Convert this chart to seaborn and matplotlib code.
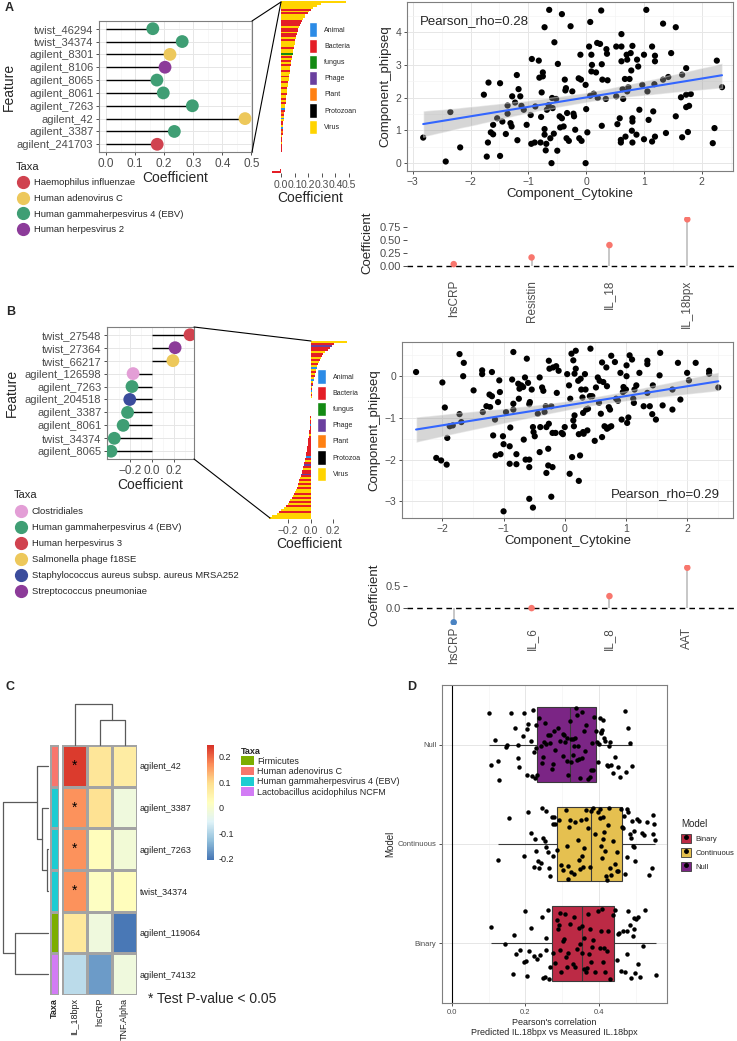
import numpy as np
import pandas as pd
import matplotlib
matplotlib.use("Agg")
import matplotlib.pyplot as plt
import seaborn as sns
from matplotlib.lines import Line2D
from matplotlib.patches import Patch
from matplotlib.colors import ListedColormap, LinearSegmentedColormap
from matplotlib.collections import PolyCollection
from matplotlib.ticker import MultipleLocator, FuncFormatter

# ---------------- DATA ----------------
# Panel A lollipop (ggplot order, bottom -> top)
featA = ["agilent_241703", "agilent_3387", "agilent_42", "agilent_7263", "agilent_8061",
         "agilent_8065", "agilent_8106", "agilent_8301", "twist_34374", "twist_46294"]
coefA = [0.176, 0.235, 0.478, 0.297, 0.197, 0.175, 0.203, 0.22, 0.262, 0.161]
taxaA = ["Haemophilus influenzae", "Human gammaherpesvirus 4 (EBV)", "Human adenovirus C",
         "Human gammaherpesvirus 4 (EBV)", "Human gammaherpesvirus 4 (EBV)",
         "Human gammaherpesvirus 4 (EBV)", "Human herpesvirus 2", "Human adenovirus C",
         "Human gammaherpesvirus 4 (EBV)", "Human gammaherpesvirus 4 (EBV)"]
taxaA_levels = ["Haemophilus influenzae", "Human adenovirus C",
                "Human gammaherpesvirus 4 (EBV)", "Human herpesvirus 2"]
taxaA_colors = ["#D0424F", "#EDC85B", "#3F9E74", "#8C3B99"]

# Panel B lollipop (bottom -> top)
featB = ["agilent_8065", "twist_34374", "agilent_8061", "agilent_3387", "agilent_204518",
         "agilent_7263", "agilent_126598", "twist_66217", "twist_27364", "twist_27548"]
coefB = [-0.37, -0.34, -0.26, -0.22, -0.20, -0.18, -0.17, 0.19, 0.21, 0.345]
taxaB = ["Human gammaherpesvirus 4 (EBV)", "Human gammaherpesvirus 4 (EBV)",
         "Human gammaherpesvirus 4 (EBV)", "Human gammaherpesvirus 4 (EBV)",
         "Staphylococcus aureus subsp. aureus MRSA252", "Human gammaherpesvirus 4 (EBV)",
         "Clostridiales", "Salmonella phage f18SE", "Streptococcus pneumoniae",
         "Human herpesvirus 3"]
taxaB_levels = ["Clostridiales", "Human gammaherpesvirus 4 (EBV)", "Human herpesvirus 3",
                "Salmonella phage f18SE", "Staphylococcus aureus subsp. aureus MRSA252",
                "Streptococcus pneumoniae"]
taxaB_colors = ["#E39ED6", "#3F9E74", "#D0424F", "#EDC85B", "#3B4C9C", "#8C3B99"]

# Waterfall bars (top -> bottom)
kingdomA = ["Animal", "Bacteria", "fungus", "Phage", "Plant", "Protozoan", "Virus"]
kingdomB = ["Animal", "Bacteria", "fungus", "Phage", "Plant", "Protozoa", "Virus"]
kingdom_colors = ["#2B8BE6", "#E41E26", "#138A13", "#6A3F9E", "#FF8012", "#000000", "#FFD400"]

barA = [0.478, 0.297, 0.262, 0.235, 0.22, 0.203, 0.197, 0.176, 0.175, 0.161,
        0.152, 0.146, 0.139, 0.133, 0.128, 0.124, 0.12, 0.117, 0.113, 0.11,
        0.106, 0.103, 0.1, 0.097, 0.094, 0.091, 0.088, 0.085, 0.083, 0.08,
        0.078, 0.076, 0.073, 0.071, 0.069, 0.067, 0.065, 0.063, 0.061, 0.059,
        0.057, 0.055, 0.053, 0.051, 0.049, 0.047, 0.045, 0.043, 0.041, 0.04,
        0.038, 0.036, 0.034, 0.033, 0.031, 0.03, 0.028, 0.027, 0.025, 0.024,
        0.022, 0.021, 0.02, 0.018, 0.017, 0.016, 0.014, 0.013, 0.012, 0.011,
        0.01, 0.009, 0.008, 0.007, 0.006, 0.006, 0.005, 0.004, 0.004, 0.003,
        0.003, 0.002, 0.002, 0.002, 0.001, 0.001, 0.001, 0.0005, -0.004, -0.066]
catA = ["Virus", "Virus", "Virus", "Virus", "Bacteria", "Virus", "Bacteria", "Virus", "Virus", "Virus",
        "Bacteria", "Bacteria", "Bacteria", "Virus", "Bacteria", "Bacteria", "Virus", "Bacteria", "Bacteria", "Virus",
        "Bacteria", "Virus", "Virus", "Virus", "Bacteria", "Virus", "Virus", "fungus", "Virus", "Bacteria",
        "Virus", "Bacteria", "Virus", "Bacteria", "Virus", "Virus", "Bacteria", "Virus", "Virus", "Bacteria",
        "Virus", "Virus", "Bacteria", "Virus", "Virus", "Bacteria", "Virus", "Virus", "Bacteria", "Virus",
        "Virus", "Bacteria", "Virus", "Bacteria", "Virus", "Virus", "Animal", "Bacteria", "Plant", "Bacteria",
        "Virus", "Animal", "Virus", "Bacteria", "Bacteria", "Virus", "Animal", "Bacteria", "Plant", "Bacteria",
        "Virus", "Bacteria", "Bacteria", "Bacteria", "Virus", "Bacteria", "Bacteria", "Bacteria", "Bacteria", "Bacteria",
        "Virus", "Bacteria", "Bacteria", "Bacteria", "Bacteria", "Virus", "Bacteria", "Bacteria", "Bacteria", "Bacteria"]

barB = [0.32, 0.21, 0.19, 0.17, 0.15, 0.13, 0.11, 0.10, 0.09, 0.08,
        0.07, 0.065, 0.06, 0.055, 0.05, 0.045, 0.04, 0.036, 0.032, 0.028,
        0.025, 0.022, 0.019, 0.016, 0.014, 0.012, 0.01, 0.009, 0.008, 0.007,
        0.006, 0.005, 0.004, 0.003, 0.002, 0.001, 0.0005, -0.001, -0.002, -0.003,
        -0.004, -0.005, -0.006, -0.008, -0.01, -0.012, -0.014, -0.016, -0.018, -0.02,
        -0.022, -0.025, -0.028, -0.03, -0.033, -0.036, -0.04, -0.043, -0.046, -0.05,
        -0.054, -0.058, -0.062, -0.066, -0.07, -0.075, -0.08, -0.085, -0.09, -0.095,
        -0.1, -0.105, -0.11, -0.115, -0.12, -0.13, -0.14, -0.15, -0.16, -0.17,
        -0.18, -0.19, -0.2, -0.22, -0.24, -0.26, -0.28, -0.3, -0.34, -0.37]
catB = ["Virus", "Bacteria", "Phage", "Bacteria", "Bacteria", "Virus", "Bacteria", "Bacteria", "Virus", "Bacteria",
        "Virus", "Bacteria", "Virus", "Animal", "Virus", "Bacteria", "Virus", "Bacteria", "Virus", "Animal",
        "Virus", "Bacteria", "Phage", "Virus", "Bacteria", "Animal", "Virus", "Bacteria", "Virus", "Bacteria",
        "Bacteria", "Virus", "Bacteria", "Animal", "Bacteria", "Virus", "Bacteria", "Bacteria", "Bacteria", "Virus",
        "Bacteria", "Bacteria", "Animal", "Bacteria", "Bacteria", "Bacteria", "Bacteria", "Virus", "Bacteria", "Bacteria",
        "Bacteria", "Bacteria", "Bacteria", "Bacteria", "Bacteria", "Bacteria", "Bacteria", "Bacteria", "Animal", "Bacteria",
        "Virus", "Bacteria", "Phage", "Bacteria", "Virus", "Bacteria", "Bacteria", "Phage", "Bacteria", "Virus",
        "Bacteria", "Virus", "Bacteria", "Virus", "Bacteria", "Virus", "Virus", "Bacteria", "Virus", "Bacteria",
        "Virus", "Bacteria", "Virus", "Bacteria", "Virus", "Virus", "Bacteria", "Virus", "Virus", "Virus"]

# Scatter A
cytA = [-2.82, -2.43, -2.35, -2.18, -1.77, -1.69, -1.70, -1.72, -1.65, -1.61,
        -1.61, -1.54, -1.49, -1.49, -1.45, -1.39, -1.36, -1.36, -1.31, -1.29,
        -1.28, -1.23, -1.20, -1.19, -1.17, -1.14, -1.12, -1.08, -1.03, -0.96,
        -0.95, -0.94, -0.89, -0.88, -0.82, -0.81, -0.79, -0.78, -0.77, -0.75,
        -0.75, -0.72, -0.72, -0.72, -0.70, -0.69, -0.68, -0.65, -0.64, -0.62,
        -0.60, -0.59, -0.58, -0.56, -0.55, -0.52, -0.50, -0.49, -0.46, -0.45,
        -0.42, -0.42, -0.39, -0.37, -0.36, -0.35, -0.34, -0.33, -0.30, -0.27,
        -0.24, -0.22, -0.21, -0.19, -0.13, -0.12, -0.10, -0.09, -0.08, -0.01,
        -0.01, 0.00, 0.02, 0.05, 0.07, 0.07, 0.09, 0.10, 0.09, 0.13,
        0.17, 0.19, 0.20, 0.24, 0.26, 0.27, 0.28, 0.27, 0.34, 0.35,
        0.36, 0.37, 0.52, 0.52, 0.54, 0.58, 0.60, 0.60, 0.61, 0.61,
        0.61, 0.63, 0.64, 0.67, 0.68, 0.70, 0.71, 0.71, 0.73, 0.75,
        0.77, 0.78, 0.79, 0.80, 0.80, 0.80, 0.80, 0.87, 0.88, 0.90,
        0.92, 0.97, 1.00, 1.00, 1.04, 1.06, 1.08, 1.14, 1.14, 1.16,
        1.18, 1.19, 1.19, 1.19, 1.33, 1.33, 1.38, 1.42, 1.47, 1.55,
        1.55, 1.66, 1.66, 1.64, 1.73, 1.73, 1.73, 1.76, 1.78, 1.81,
        2.19, 2.22, 2.26, 2.35]
phipA = [0.78, 0.05, 1.56, 0.48, 2.09, 2.46, 0.63, 0.20, 0.94, 0.88,
         1.17, 1.37, 2.44, 0.22, 1.27, 0.89, 1.76, 1.51, 1.22, 1.12,
         2.04, 1.85, 2.69, 0.70, 2.26, 2.04, 1.75, 1.63, 1.17, 1.47,
         0.59, 3.18, 0.63, 1.73, 3.13, 2.61, 0.63, 1.41, 2.16, 2.77,
         2.65, 4.15, 1.04, 0.87, 0.39, 0.59, 1.63, 1.77, 4.68, 0.76,
         0.00, 1.99, 1.68, 0.90, 3.69, 1.96, 0.38, 3.03, 1.43, 1.09,
         4.55, 1.37, 1.12, 2.55, 2.22, 2.29, 0.76, 1.53, 0.68, 4.18,
         2.19, 1.51, 1.43, 1.02, 2.59, 0.76, 3.31, 2.55, 0.68, 2.39,
         0.00, 1.65, 0.94, 3.56, 4.31, 2.06, 3.31, 3.00, 2.80, 2.12,
         2.77, 3.67, 1.99, 3.64, 4.66, 3.02, 2.55, 1.14, 1.96, 3.48,
         3.34, 2.53, 3.56, 2.04, 1.19, 1.37, 0.71, 0.63, 3.94, 3.11,
         3.56, 2.26, 1.96, 2.57, 0.81, 3.31, 3.16, 2.19, 2.32, 2.57,
         3.36, 2.83, 0.99, 3.58, 1.37, 1.27, 0.63, 0.87, 3.16, 2.95,
         1.63, 2.39, 3.31, 0.73, 4.68, 2.19, 1.32, 3.56, 0.66, 1.58,
         2.41, 3.28, 3.11, 0.81, 4.26, 2.55, 0.92, 2.63, 3.36, 4.15,
         1.43, 0.79, 2.70, 2.01, 2.09, 2.90, 1.71, 0.95, 1.75, 2.11,
         0.61, 1.07, 3.13, 2.32]

# Scatter B
cytB = [-2.43, -2.10, -2.02, -2.00, -1.96, -1.93, -1.92, -1.88, -1.83, -1.72,
        -1.72, -1.69, -1.66, -1.65, -1.49, -1.35, -1.35, -1.34, -1.28, -1.23,
        -1.22, -1.19, -1.19, -1.17, -1.14, -1.13, -1.09, -1.07, -1.06, -1.05,
        -1.01, -1.00, -0.96, -0.90, -0.90, -0.89, -0.86, -0.84, -0.84, -0.84,
        -0.79, -0.79, -0.76, -0.75, -0.74, -0.71, -0.68, -0.67, -0.65, -0.64,
        -0.62, -0.60, -0.58, -0.58, -0.58, -0.57, -0.54, -0.52, -0.51, -0.49,
        -0.44, -0.41, -0.41, -0.40, -0.37, -0.35, -0.33, -0.31, -0.30, -0.30,
        -0.27, -0.27, -0.26, -0.26, -0.25, -0.22, -0.20, -0.20, -0.19, -0.15,
        -0.14, -0.13, -0.10, -0.05, -0.03, 0.00, 0.04, 0.07, 0.08, 0.09,
        0.11, 0.12, 0.14, 0.14, 0.15, 0.16, 0.16, 0.18, 0.18, 0.22,
        0.23, 0.23, 0.25, 0.26, 0.27, 0.29, 0.30, 0.30, 0.31, 0.33,
        0.34, 0.35, 0.37, 0.38, 0.41, 0.42, 0.42, 0.45, 0.49, 0.51,
        0.54, 0.56, 0.57, 0.59, 0.61, 0.61, 0.63, 0.65, 0.68, 0.69,
        0.69, 0.72, 0.72, 0.74, 0.76, 0.76, 0.82, 0.84, 0.87, 0.91,
        0.93, 0.95, 0.96, 0.98, 1.00, 1.01, 1.01, 1.02, 1.04, 1.06,
        1.10, 1.12, 1.13, 1.14, 1.17, 1.22, 1.29, 1.35, 1.35, 1.35,
        1.39, 1.43, 1.44, 1.49, 1.55, 1.56, 1.60, 1.76, 1.76, 1.85,
        1.89, 2.00, 2.03, 2.14, 2.36, 2.36, 2.51, -0.58, -0.22, -0.52, -1.00]
phipB = [0.10, -1.96, -2.02, -0.15, -0.75, -2.12, -1.48, -1.20, -1.18, 0.53,
         -0.91, -1.10, 0.00, 0.32, -0.34, 0.14, 0.05, -0.86, -0.72, -0.44,
         -0.74, 0.10, -0.48, -1.42, -1.04, -1.90, -0.62, -0.10, -0.38, -1.87,
         -1.44, -1.63, -0.86, -2.10, -1.68, -1.23, -0.08, 0.58, -0.80, -0.66,
         -2.11, -1.87, -0.18, -0.54, -0.30, -0.22, -0.26, -1.52, -0.03, -2.00,
         0.42, -0.16, -0.67, -2.00, -2.18, -0.62, -0.32, -1.22, -1.34, -1.44,
         -0.90, -0.03, -1.82, -1.22, -0.27, -0.35, -0.86, -0.72, -1.22, -2.32,
         -1.74, -2.14, -1.14, 0.37, 0.18, -0.72, -1.36, -2.18, 0.21, -1.36,
         0.24, -0.40, 0.13, -1.36, -1.39, -1.22, 0.05, -0.22, -2.34, -0.54,
         0.54, -1.94, 0.38, -1.06, -1.20, -0.94, 0.06, 0.61, 0.18, -0.11,
         -1.39, -2.51, -1.90, -0.06, -0.32, -0.51, -0.88, -1.34, -1.38, 0.05,
         -0.32, -0.80, -1.30, -0.78, -0.48, 0.66, -0.48, -0.48, -1.55, -0.27,
         -0.03, -0.64, -0.11, -0.90, 0.33, -1.46, -0.14, -1.20, 0.21, -1.26,
         -0.24, -0.74, -1.23, -0.80, 0.49, -1.20, 0.34, -0.54, -0.59, 0.08,
         -1.04, -0.38, -0.26, -0.34, -0.32, 0.00, 0.26, -1.12, -0.99, 0.50,
         0.40, -0.54, -0.64, -0.32, -0.22, 0.08, -0.72, 0.37, 0.29, -0.40,
         -0.72, -0.91, -0.22, -1.04, 0.02, 0.56, -0.70, -0.32, -0.80, 0.32,
         -0.56, 0.08, -0.10, 0.32, 0.13, 0.06, -0.27, -2.94, -2.89, -3.15, -3.24]

# Cytokine coefficient lollipops
cytoA = ["hsCRP", "Resistin", "IL_18", "IL_18bpx"]
cytoA_coef = [0.03, 0.16, 0.40, 0.90]
cytoB = ["hsCRP", "IL_6", "IL_8", "AAT"]
cytoB_coef = [-0.32, 0.0, 0.27, 0.91]

# Panel C heatmap
heat_rows = ["agilent_42", "agilent_3387", "agilent_7263", "twist_34374", "agilent_119064", "agilent_74132"]
heat_cols = ["IL_18bpx", "hsCRP", "TNF.Alpha"]
heat_il18 = [0.235, 0.165, 0.165, 0.165, 0.075, -0.09]
heat_crp = [0.08, 0.09, 0.025, 0.015, -0.02, -0.165]
heat_tnf = [0.065, -0.02, -0.01, 0.025, -0.2, -0.02]
heat_sig = ["*", "*", "*", "*", "", ""]
heat_taxa = ["Human adenovirus C", "Human gammaherpesvirus 4 (EBV)", "Human gammaherpesvirus 4 (EBV)",
             "Human gammaherpesvirus 4 (EBV)", "Firmicutes", "Lactobacillus acidophilus NCFM"]
heat_taxa_levels = ["Firmicutes", "Human adenovirus C", "Human gammaherpesvirus 4 (EBV)",
                    "Lactobacillus acidophilus NCFM"]
heat_taxa_colors = ["#7CAE00", "#F8766D", "#1CCCD2", "#D27CF5"]
# dendrogram merges: (node a, node b, height)
row_merges = [(2, 3, 0.02), (1, 6, 0.13), (0, 7, 0.24), (4, 5, 0.72), (8, 9, 0.98)]
col_merges = [(1, 2, 0.556), (0, 3, 0.91)]

# Panel D
r_null = [0.101, 0.107, 0.116, 0.125, 0.128, 0.146, 0.150, 0.162, 0.171, 0.180,
          0.180, 0.183, 0.192, 0.195, 0.203, 0.203, 0.207, 0.214, 0.219, 0.221,
          0.223, 0.225, 0.228, 0.230, 0.232, 0.237, 0.241, 0.246, 0.248, 0.250,
          0.253, 0.257, 0.262, 0.266, 0.268, 0.271, 0.275, 0.277, 0.280, 0.289,
          0.294, 0.301, 0.303, 0.305, 0.307, 0.312, 0.314, 0.316, 0.321, 0.323,
          0.325, 0.328, 0.330, 0.332, 0.335, 0.337, 0.339, 0.341, 0.344, 0.346,
          0.348, 0.353, 0.355, 0.359, 0.362, 0.366, 0.371, 0.375, 0.377, 0.380,
          0.385, 0.386, 0.392, 0.395, 0.398, 0.401, 0.403, 0.405, 0.405, 0.407,
          0.410, 0.414, 0.416, 0.421, 0.425, 0.428, 0.430, 0.432, 0.439, 0.444,
          0.453, 0.457, 0.471, 0.474, 0.480, 0.485, 0.489]
r_cont = [0.125, 0.155, 0.195, 0.207, 0.216, 0.223, 0.225, 0.228, 0.235, 0.237,
          0.241, 0.246, 0.248, 0.253, 0.255, 0.257, 0.262, 0.265, 0.268, 0.271,
          0.274, 0.275, 0.277, 0.280, 0.285, 0.292, 0.298, 0.301, 0.310, 0.314,
          0.316, 0.316, 0.319, 0.321, 0.325, 0.332, 0.335, 0.344, 0.346, 0.348,
          0.350, 0.353, 0.357, 0.359, 0.365, 0.366, 0.371, 0.375, 0.377, 0.383,
          0.389, 0.398, 0.403, 0.403, 0.405, 0.407, 0.410, 0.412, 0.414, 0.416,
          0.419, 0.421, 0.425, 0.428, 0.430, 0.432, 0.439, 0.444, 0.448, 0.450,
          0.453, 0.459, 0.462, 0.466, 0.468, 0.471, 0.475, 0.477, 0.480, 0.483,
          0.486, 0.489, 0.492, 0.494, 0.495, 0.498, 0.503, 0.510, 0.516, 0.523,
          0.530, 0.537, 0.544, 0.546, 0.548, 0.550, 0.553]
r_bin = [0.107, 0.144, 0.166, 0.168, 0.175, 0.185, 0.195, 0.198, 0.201, 0.205,
         0.210, 0.214, 0.223, 0.232, 0.239, 0.244, 0.248, 0.253, 0.255, 0.257,
         0.262, 0.265, 0.268, 0.275, 0.280, 0.285, 0.289, 0.292, 0.294, 0.295,
         0.298, 0.301, 0.305, 0.307, 0.310, 0.312, 0.316, 0.321, 0.328, 0.332,
         0.335, 0.339, 0.346, 0.348, 0.353, 0.355, 0.359, 0.359, 0.365, 0.368,
         0.371, 0.374, 0.375, 0.377, 0.380, 0.385, 0.389, 0.398, 0.403, 0.405,
         0.407, 0.410, 0.414, 0.416, 0.421, 0.425, 0.430, 0.439, 0.444, 0.448,
         0.453, 0.455, 0.459, 0.465, 0.471, 0.475, 0.477, 0.480, 0.483, 0.486,
         0.492, 0.494, 0.495, 0.498, 0.501, 0.505, 0.507, 0.512, 0.521, 0.525, 0.555]
model_order = ["Null", "Continuous", "Binary"]
model_legend = ["Binary", "Continuous", "Null"]
model_colors = {"Binary": "#BC2A45", "Continuous": "#E5C050", "Null": "#7B2585"}

# ---------------- STYLE ----------------
sns.set_theme(style="white")
plt.rcParams["font.family"] = ["Liberation Sans", "DejaVu Sans"]
plt.rcParams["axes.unicode_minus"] = True

W, H = 737, 1041
fig = plt.figure(figsize=(W / 100, H / 100), dpi=100)


def pax(x0, y0, x1, y1):
    return fig.add_axes([x0 / W, 1 - y1 / H, (x1 - x0) / W, (y1 - y0) / H])


def fig_line(p, q):
    fig.add_artist(Line2D([p[0] / W, q[0] / W], [1 - p[1] / H, 1 - q[1] / H],
                          transform=fig.transFigure, color="black", lw=0.8))


def minus_fmt(fmt):
    return FuncFormatter(lambda v, pos: (fmt % v).replace("-", "\u2212") if abs(v) > 1e-12 else fmt % 0)


def bw(ax, fs=8, minor_x=None, minor_y=None):
    for s in ax.spines.values():
        s.set_visible(True)
        s.set_color("#7F7F7F")
        s.set_linewidth(0.8)
    ax.set_facecolor("white")
    if minor_x:
        ax.xaxis.set_minor_locator(MultipleLocator(minor_x))
    if minor_y:
        ax.yaxis.set_minor_locator(MultipleLocator(minor_y))
    ax.grid(True, which="major", color="#E6E6E6", lw=0.7)
    ax.grid(True, which="minor", color="#F3F3F3", lw=0.45)
    ax.set_axisbelow(True)
    ax.tick_params(which="major", color="#333333", length=2.5, width=0.6,
                   labelsize=fs, labelcolor="#4D4D4D", pad=1.5, bottom=True, left=True)
    ax.tick_params(which="minor", length=0)


def lollipop(ax, feats, coefs, taxa, levels, colors):
    ax.hlines(feats, 0, coefs, color="black", lw=1.0, zorder=2)
    sns.scatterplot(x=coefs, y=feats, hue=taxa, hue_order=levels,
                    palette=dict(zip(levels, colors)), s=85, edgecolor="none",
                    legend=False, ax=ax, zorder=3)
    ax.set_ylim(-0.6, len(feats) - 0.4)
    ax.set_ylabel("Feature", fontsize=10)
    ax.set_xlabel("Coefficient", fontsize=10, labelpad=1)


def waterfall(ax, vals, cats, kingdoms, xlim, xticks):
    pal = dict(zip(kingdoms, kingdom_colors))
    ylabels = [f"b{i}" for i in range(len(vals))]
    sns.barplot(x=vals, y=ylabels, hue=cats, palette=pal, dodge=False, width=1.0,
                orient="h", legend=False, ax=ax, linewidth=0, saturation=1)
    for s in ax.spines.values():
        s.set_visible(False)
    ax.set_xlim(*xlim)
    ax.set_xticks(xticks)
    ax.xaxis.set_major_formatter(minus_fmt("%.1f"))
    ax.set_yticks([])
    ax.set_ylabel("")
    ax.tick_params(axis="x", bottom=True, length=3, width=0.6, color="#333333",
                   labelsize=7.5, labelcolor="#4D4D4D", pad=2)
    ax.set_xlabel("Coefficient", fontsize=10, labelpad=1)
    ax.grid(False)


def scatter_panel(ax, x, y, xlim, ylim, xticks, yticks):
    sns.scatterplot(x=x, y=y, color="black", s=20, edgecolor="none", ax=ax, zorder=2)
    sns.regplot(x=x, y=y, scatter=False, ax=ax, color="#3366FF", seed=0,
                line_kws={"lw": 1.5, "zorder": 4})
    for c in ax.collections:
        if isinstance(c, PolyCollection):
            c.set_facecolor("#999999")
            c.set_alpha(0.4)
            c.set_zorder(3)
    ax.set_xlim(*xlim)
    ax.set_ylim(*ylim)
    ax.set_xticks(xticks)
    ax.set_yticks(yticks)
    ax.xaxis.set_major_formatter(minus_fmt("%d"))
    ax.yaxis.set_major_formatter(minus_fmt("%d"))
    bw(ax, fs=7.5, minor_x=0.5, minor_y=0.5)
    ax.set_xlabel("Component_Cytokine", fontsize=9.5, labelpad=1)
    ax.set_ylabel("Component_phipseq", fontsize=9.5, labelpad=3)


def coef_panel(ax, names, vals, yticks, fmt, pad):
    ax.vlines(names, 0, vals, color="#BDBDBD", lw=1.2, zorder=1)
    sign = ["pos" if v >= 0 else "neg" for v in vals]
    sns.scatterplot(x=names, y=vals, hue=sign, palette={"pos": "#F8766D", "neg": "#4A83C2"},
                    s=22, edgecolor="none", legend=False, ax=ax, zorder=3)
    ax.axhline(0, color="black", lw=1.0, ls=(0, (4, 3)), zorder=2)
    ax.set_xlim(-0.6, len(names) - 0.4)
    for s in ax.spines.values():
        s.set_visible(False)
    ax.grid(False)
    ax.set_yticks(yticks)
    ax.yaxis.set_major_formatter(minus_fmt(fmt))
    ax.tick_params(axis="y", left=True, length=3, width=0.6, color="#333333",
                   labelsize=8, labelcolor="#4D4D4D", pad=1.5)
    ax.tick_params(axis="x", bottom=False, length=0, labelsize=8.5, labelcolor="#4D4D4D", pad=pad,
                   labelrotation=90)
    ax.set_ylabel("Coefficient", fontsize=9.5, labelpad=4)
    ax.set_xlabel("")


# ---------------- PANEL A ----------------
axA = pax(99, 21, 252, 152)
lollipop(axA, featA, coefA, taxaA, taxaA_levels, taxaA_colors)
axA.set_xlim(-0.024, 0.502)
axA.set_xticks([0, 0.1, 0.2, 0.3, 0.4, 0.5])
axA.xaxis.set_major_formatter(minus_fmt("%.1f"))
bw(axA, fs=8, minor_x=0.05)
axA.tick_params(axis="y", labelsize=8)
axA.tick_params(axis="x", labelsize=8.5)
axA.yaxis.set_label_coords((16 - 99) / 153, 0.5)

hA = [Line2D([0], [0], marker="o", ls="", color=c, ms=8.5) for c in taxaA_colors]
fig.legend(hA, taxaA_levels, loc="upper left", bbox_to_anchor=(11 / W, 1 - 157 / H),
           frameon=False, title="Taxa", title_fontsize=8, fontsize=6.8, labelspacing=0.7,
           handletextpad=0.3, handlelength=1.6, alignment="left", borderpad=0)

axWA = pax(271.5, 1, 349.7, 173)
waterfall(axWA, barA, catA, kingdomA, (-0.07, 0.505), [0, 0.1, 0.2, 0.3, 0.4, 0.5])
axWA.legend([Patch(facecolor=c, edgecolor="white") for c in kingdom_colors], kingdomA,
            loc="upper left", bbox_to_anchor=(306 / W, 1 - 19 / H), bbox_transform=fig.transFigure,
            frameon=False, fontsize=5, handlelength=1.1, handleheight=2.75, labelspacing=0.3,
            handletextpad=1.0, borderpad=0)
fig_line((252, 21), (281, 2))
fig_line((252, 152), (281, 2))

axSA = pax(407, 2, 733, 171)
scatter_panel(axSA, cytA, phipA, (-3.1, 2.54), (-0.24, 4.92), [-3, -2, -1, 0, 1, 2], [0, 1, 2, 3, 4])
axSA.text(0.04, 0.885, "Pearson_rho=0.28", transform=axSA.transAxes, fontsize=9.5, va="center")

axCA = pax(407, 217, 734, 268)
coef_panel(axCA, cytoA, cytoA_coef, [0, 0.25, 0.5, 0.75], "%.2f", 8.5)
axCA.set_ylim(-0.045, 0.945)

# ---------------- PANEL B ----------------
axB = pax(107, 327, 194, 459)
lollipop(axB, featB, coefB, taxaB, taxaB_levels, taxaB_colors)
axB.set_xlim(-0.406, 0.381)
axB.set_xticks([-0.2, 0, 0.2])
axB.xaxis.set_major_formatter(minus_fmt("%.1f"))
bw(axB, fs=8, minor_x=0.1)
axB.tick_params(axis="y", labelsize=8)
axB.tick_params(axis="x", labelsize=8.5)
axB.yaxis.set_label_coords((19 - 107) / 87, 0.5)

hB = [Line2D([0], [0], marker="o", ls="", color=c, ms=8.5) for c in taxaB_colors]
fig.legend(hB, taxaB_levels, loc="upper left", bbox_to_anchor=(9 / W, 1 - 485 / H),
           frameon=False, title="Taxa", title_fontsize=8, fontsize=6.8, labelspacing=0.75,
           handletextpad=0.3, handlelength=1.6, alignment="left", borderpad=0)

axWB = pax(268, 341, 350, 519)
waterfall(axWB, barB, catB, kingdomB, (-0.38, 0.35), [-0.2, 0, 0.2])
axWB.legend([Patch(facecolor=c, edgecolor="white") for c in kingdom_colors], kingdomB,
            loc="upper left", bbox_to_anchor=(314 / W, 1 - 366 / H), bbox_transform=fig.transFigure,
            frameon=False, fontsize=5, handlelength=1.2, handleheight=2.75, labelspacing=0.3,
            handletextpad=1.0, borderpad=0)
fig_line((194, 327), (311, 341))
fig_line((194, 459), (270, 518))

axSB = pax(402, 342, 733, 518)
scatter_panel(axSB, cytB, phipB, (-2.66, 2.75), (-3.4, 0.82), [-2, -1, 0, 1, 2], [-3, -2, -1, 0])
axSB.text(0.96, 0.136, "Pearson_rho=0.29", transform=axSB.transAxes, fontsize=9.5,
          va="center", ha="right")

axCB = pax(407, 565, 734, 625)
coef_panel(axCB, cytoB, cytoB_coef, [0, 0.5], "%.1f", 1.5)
axCB.set_ylim(-0.38, 0.97)

# ---------------- PANEL C ----------------
ph_cmap = LinearSegmentedColormap.from_list(
    "ph", ["#4575B4", "#91BFDB", "#E0F3F8", "#FFFFBF", "#FEE090", "#FC8D59", "#D73027"])
axH = pax(62, 745, 137, 995)
cax = pax(207, 745, 214, 860)
dfH = pd.DataFrame({"IL_18bpx": heat_il18, "hsCRP": heat_crp, "TNF.Alpha": heat_tnf},
                   index=heat_rows)
annot = np.array([[s, "", ""] for s in heat_sig])
sns.heatmap(dfH, ax=axH, cmap=ph_cmap, vmin=-0.205, vmax=0.245, linewidths=0.9,
            linecolor="#A3A3A3", cbar_ax=cax, annot=annot, fmt="",
            annot_kws={"fontsize": 10, "color": "black"})
axH.yaxis.tick_right()
axH.set_yticklabels(heat_rows, rotation=0, fontsize=6.5, color="#222222")
axH.set_xticklabels(heat_cols, rotation=90, fontsize=6.5, color="#222222")
axH.tick_params(length=0, pad=2)
axH.set_xlabel("")
axH.set_ylabel("")
cbar = axH.collections[0].colorbar
cbar.outline.set_visible(False)
cbar.set_ticks([-0.2, -0.1, 0, 0.1, 0.2])
cbar.set_ticklabels(["-0.2", "-0.1", "0", "0.1", "0.2"])
cbar.ax.tick_params(length=0, labelsize=6.5, pad=3)

axT = pax(50, 745, 59, 995)
codes = pd.DataFrame({"Taxa": [heat_taxa_levels.index(t) for t in heat_taxa]}, index=heat_rows)
sns.heatmap(codes, ax=axT, cmap=ListedColormap(heat_taxa_colors), vmin=-0.5, vmax=3.5,
            cbar=False, linewidths=0.9, linecolor="#A3A3A3", xticklabels=True, yticklabels=False)
axT.set_xticklabels(["Taxa"], rotation=90, fontsize=6.5, fontweight="bold")
axT.tick_params(length=0, pad=2)
axT.set_ylabel("")


def draw_dendro(ax, leaf_pos, merges, orient):
    pos = list(leaf_pos)
    hgt = [0.0] * len(leaf_pos)
    for a, b, h in merges:
        pa, pb, ha, hb = pos[a], pos[b], hgt[a], hgt[b]
        if orient == "top":
            ax.plot([pa, pa, pb, pb], [ha, h, h, hb], color="#5A5A5A", lw=0.9, clip_on=False)
        else:
            ax.plot([ha, h, h, hb], [pa, pa, pb, pb], color="#5A5A5A", lw=0.9, clip_on=False)
        pos.append((pa + pb) / 2)
        hgt.append(h)


axRD = pax(2, 745, 48, 995)
draw_dendro(axRD, [i + 0.5 for i in range(len(heat_rows))], row_merges, "left")
axRD.set_xlim(1, 0)
axRD.set_ylim(len(heat_rows), 0)
axRD.axis("off")

axCD = pax(62, 700, 137, 745)
draw_dendro(axCD, [i + 0.5 for i in range(len(heat_cols))], col_merges, "top")
axCD.set_xlim(0, len(heat_cols))
axCD.set_ylim(0, 1)
axCD.axis("off")

fig.legend([Patch(facecolor=c, edgecolor="none") for c in heat_taxa_colors], heat_taxa_levels,
           loc="upper left", bbox_to_anchor=(236 / W, 1 - 742 / H), frameon=False, title="Taxa",
           title_fontproperties={"weight": "bold", "size": 6.5}, fontsize=6.5,
           handlelength=1.45, handleheight=1.1, labelspacing=0.1, handletextpad=0.4,
           alignment="left", borderpad=0)
fig.text(148 / W, 1 - 999 / H, "* Test P-value < 0.05", fontsize=10, va="center")

# ---------------- PANEL D ----------------
axD = pax(442, 685, 667, 1003)
dfD = pd.DataFrame({
    "r": r_null + r_cont + r_bin,
    "Model": ["Null"] * len(r_null) + ["Continuous"] * len(r_cont) + ["Binary"] * len(r_bin),
})
sns.boxplot(data=dfD, x="r", y="Model", order=model_order, hue="Model", palette=model_colors,
            width=0.75, showfliers=False, showcaps=False, linecolor="#3A3A3A", linewidth=0.8,
            saturation=1, legend=False, ax=axD)
np.random.seed(7)
sns.stripplot(data=dfD, x="r", y="Model", order=model_order, color="black", size=3.2,
              jitter=0.37, ax=axD, zorder=4)
axD.axvline(0, color="black", lw=0.8)
axD.set_xlim(-0.027, 0.585)
axD.set_ylim(2.6, -0.6)
axD.set_xticks([0, 0.2, 0.4])
axD.xaxis.set_major_formatter(minus_fmt("%.1f"))
bw(axD, fs=5.5, minor_x=0.1)
axD.set_xlabel("Pearson's correlation\nPredicted IL.18bpx vs Measured IL.18bpx", fontsize=6.5,
               labelpad=2, linespacing=1.1)
axD.set_ylabel("Model", fontsize=7, labelpad=2)

hD = [(Patch(facecolor=model_colors[m], edgecolor="#3A3A3A", lw=0.6),
       Line2D([0], [0], marker="o", ls="", color="black", ms=2.5)) for m in model_legend]
fig.legend(hD, model_legend, loc="upper left", bbox_to_anchor=(677 / W, 1 - 815 / H),
           frameon=False, title="Model", title_fontsize=7, fontsize=5.5, handlelength=1.3,
           handleheight=1.45, labelspacing=0.65, handletextpad=0.6, alignment="left", borderpad=0)

# panel letters
for lab, (x, y) in {"A": (5, 8), "B": (6, 312), "C": (6, 687), "D": (407, 687)}.items():
    fig.text(x / W, 1 - y / H, lab, fontsize=9, fontweight="bold", va="center")

fig.savefig("out.png", dpi=100)
